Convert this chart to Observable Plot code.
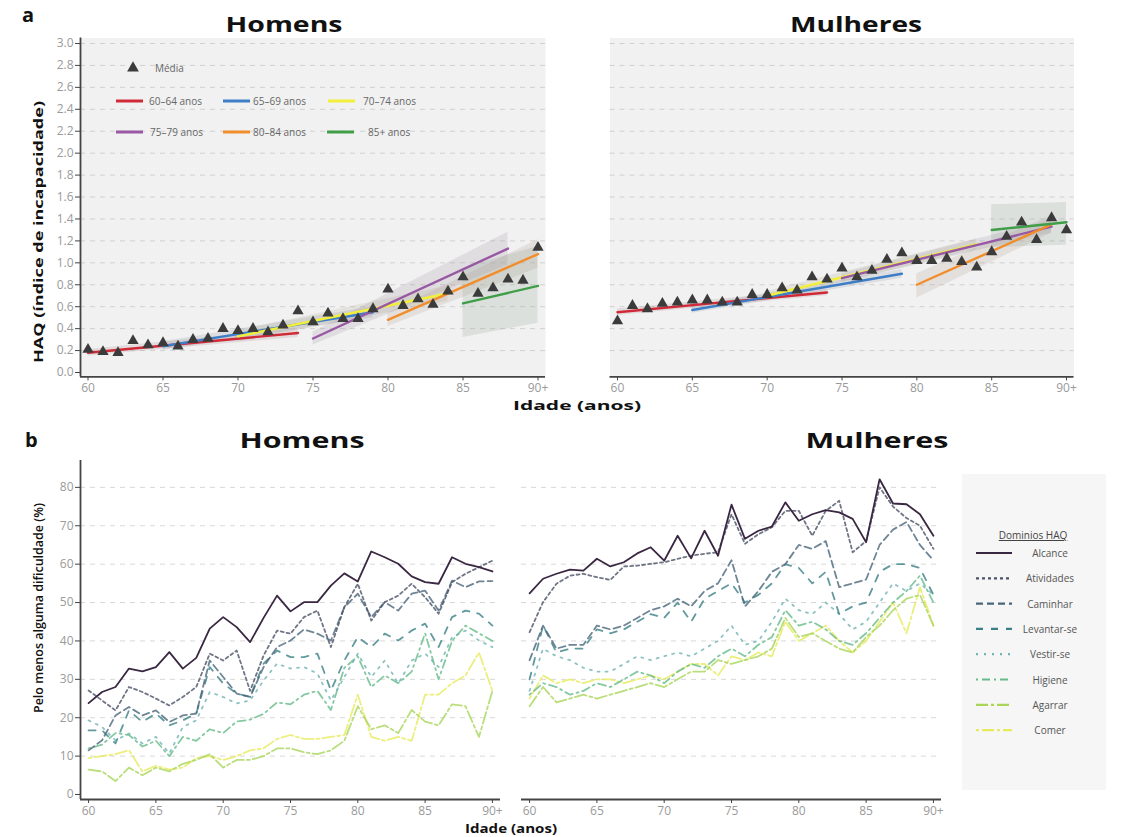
<!DOCTYPE html>
<html>
<head>
<meta charset="utf-8">
<script src="https://cdn.jsdelivr.net/npm/d3@7"></script>
<script src="https://cdn.jsdelivr.net/npm/@observablehq/plot@0.6"></script>
<style>
  body { margin: 0; background: #fff; }
  #fig { position: relative; width: 1122px; height: 837px; overflow: hidden; background: #fff; font-family: "Open Sans", sans-serif; }
  #fig > svg { position: absolute; }
</style>
</head>
<body>
<div id="fig"></div>
<script>
// ---------- shared axes ----------
const ages = [60,61,62,63,64,65,66,67,68,69,70,71,72,73,74,75,76,77,78,79,80,81,82,83,84,85,86,87,88,89,90];
const ageTicks = [60, 65, 70, 75, 80, 85, 90];
const haqTicks = [0, 0.2, 0.4, 0.6, 0.8, 1.0, 1.2, 1.4, 1.6, 1.8, 2.0, 2.2, 2.4, 2.6, 2.8, 3.0];
const pctTicks = [0, 10, 20, 30, 40, 50, 60, 70, 80];

// ---------- (a) HAQ mean by single year of age ----------
const haqMeanMen = [0.21,0.19,0.18,0.29,0.25,0.27,0.24,0.30,0.31,0.40,0.38,0.40,0.37,0.43,0.56,0.46,0.54,0.49,0.49,0.58,0.76,0.61,0.67,0.62,0.74,0.87,0.72,0.77,0.85,0.84,1.14];
const haqMeanWomen = [0.47,0.61,0.58,0.63,0.64,0.66,0.66,0.64,0.64,0.71,0.71,0.77,0.75,0.87,0.85,0.95,0.87,0.93,1.03,1.09,1.02,1.02,1.04,1.01,0.96,1.10,1.24,1.37,1.21,1.41,1.30];

// baseline cohorts and their fitted trajectories
const cohortGroups = ["60–64 anos", "65–69 anos", "70–74 anos", "75–79 anos", "80–84 anos", "85+ anos"];
const cohortColors = ["#d02a38", "#3d7ec6", "#f2ef3a", "#9858a4", "#f28d2c", "#3f9e47"];
// cohort, first age, last age, fit at first, fit at last, band low/high at first, band low/high at last
const fitsMen = [
  [0, 60, 74, 0.18, 0.36, 0.15, 0.21, 0.32, 0.40],
  [1, 65, 79, 0.24, 0.55, 0.20, 0.28, 0.50, 0.60],
  [2, 70, 84, 0.33, 0.72, 0.28, 0.38, 0.65, 0.79],
  [3, 75, 88, 0.31, 1.13, 0.25, 0.37, 0.98, 1.28],
  [4, 80, 90, 0.48, 1.08, 0.42, 0.54, 0.95, 1.21],
  [5, 85, 90, 0.63, 0.79, 0.32, 0.95, 0.45, 1.15]
];
const fitsWomen = [
  [0, 60, 74, 0.55, 0.73, 0.52, 0.58, 0.70, 0.76],
  [1, 65, 79, 0.57, 0.90, 0.54, 0.60, 0.86, 0.94],
  [2, 70, 84, 0.70, 1.17, 0.66, 0.74, 1.12, 1.22],
  [3, 75, 89, 0.86, 1.33, 0.82, 0.90, 1.27, 1.39],
  [4, 80, 89, 0.80, 1.35, 0.68, 0.90, 1.27, 1.43],
  [5, 85, 90, 1.30, 1.37, 1.14, 1.53, 1.16, 1.55]
];

// ---------- (b) % with at least some difficulty, by HAQ domain ----------
const domains = ["Alcance", "Atividades", "Caminhar", "Levantar-se", "Vestir-se", "Higiene", "Agarrar", "Comer"];
const domainColors = ["#3a2742", "#4b5366", "#4a667a", "#3a8085", "#72b3b3", "#66bb8a", "#a9d65a", "#e7ea5c"];
const domainDashes = ["none", "3,3", "7,4", "7,8", "2,6", "2,4,8,4", "12,3,3,3", "3,3,12,3"];

const menAlcance    = [23.8,26.7,28.0,32.8,32.1,33.2,37.1,32.8,35.6,43.2,46.2,43.6,39.7,46.0,51.8,47.7,50.1,50.1,54.4,57.6,55.5,63.3,61.8,60.1,56.8,55.3,54.9,61.8,60.1,59.2,58.1];
const menAtividades = [27.1,24.5,21.9,28.0,26.7,25.0,23.2,25.4,28.0,36.7,34.9,37.5,27.0,36.2,42.7,41.9,46.2,47.9,38.4,48.8,54.9,45.3,50.1,51.8,54.9,51.4,47.1,55.3,57.5,59.2,60.9];
const menCaminhar   = [11.5,14.1,20.6,22.8,20.6,21.9,18.9,20.6,21.1,34.9,30.6,26.3,25.4,33.2,38.4,40.1,43.0,41.9,40.1,48.8,52.3,46.2,50.1,47.9,52.3,53.1,47.9,55.7,54.0,55.5,55.6];
const menLevantar   = [16.7,16.7,13.3,21.9,18.9,21.1,18.0,19.3,21.1,33.2,28.9,26.3,25.4,34.1,37.5,35.8,35.8,36.7,27.1,34.9,41.0,38.4,41.9,40.1,42.7,44.5,38.4,46.2,47.9,47.1,44.0];
const menVestir     = [19.3,17.6,14.1,15.9,13.3,15.0,10.7,17.6,19.3,26.7,25.4,23.7,24.5,29.7,34.1,32.8,33.2,31.5,24.5,30.6,36.7,30.6,34.9,28.9,34.9,36.7,33.2,41.0,42.7,40.1,38.4];
const menHigiene    = [12.0,13.0,16.0,15.5,12.5,14.0,10.0,15.0,14.0,17.0,16.0,19.0,19.5,21.0,24.0,23.5,26.0,27.0,22.0,33.0,36.0,28.0,31.0,29.0,32.0,42.0,30.0,40.0,44.0,42.0,40.0];
const menAgarrar    = [6.5,6.0,3.5,7.0,5.0,7.0,6.0,8.0,9.0,10.5,7.0,9.0,9.0,10.0,12.0,12.0,11.0,10.5,11.5,14.0,23.0,17.0,18.0,16.0,22.0,19.0,18.0,23.5,23.0,15.0,27.0];
const menComer      = [9.5,10.0,10.5,11.5,6.0,7.5,6.5,7.0,9.5,10.0,9.0,10.0,11.5,12.0,14.5,15.5,14.5,14.5,15.0,15.5,26.0,15.0,14.0,15.0,14.0,26.0,26.0,29.0,31.0,37.0,27.0];

const womenAlcance    = [52.4,56.2,57.5,58.6,58.3,61.4,59.4,60.5,62.8,64.4,60.9,67.4,61.5,68.7,62.2,75.5,66.6,68.7,69.8,76.1,71.3,73.0,74.1,73.5,71.8,65.7,82.1,75.8,75.6,73.0,67.4];
const womenAtividades = [42.3,50.1,54.9,57.0,57.5,56.6,55.9,59.4,59.6,60.1,60.5,61.4,62.2,62.7,63.1,73.0,65.3,67.8,69.6,73.9,73.9,67.4,73.9,76.5,63.1,66.0,80.0,75.0,72.0,70.0,64.0];
const womenCaminhar   = [35,44,38,39,39,44,43,44,46,48,49,51,49,53,55,61,49,53,58,60,65,64,66,54,55,56,65,69,71,65,61];
const womenLevantar   = [30,44,37,38,38,43,42,43,45,47,46,50,45,51,53,55,50,52,55,60,59,55,58,47,49,50,58,60,60,59,52];
const womenVestir     = [27,38,36,35,33,32,32,34,36,35,36,37,36,38,40,44,39,40,45,51,48,47,50,47,43,45,50,55,53,55,52];
const womenHigiene    = [26,29,28,26,27,29,28,30,32,31,29,32,34,33,36,38,36,39,41,48,44,45,43,40,39,42,46,50,53,57,50];
const womenAgarrar    = [23,28,24,25,26,25,26,27,28,29,28,30,32,32,35,34,35,36,38,46,41,42,40,38,37,41,44,48,51,52,44];
const womenComer      = [25,31,29,30,29,30,30,29,30,31,30,32,34,34,31,36,35,37,36,45,40,42,44,40,37,40,45,50,42,54,44];

const menDomains = [menAlcance, menAtividades, menCaminhar, menLevantar, menVestir, menHigiene, menAgarrar, menComer];
const womenDomains = [womenAlcance, womenAtividades, womenCaminhar, womenLevantar, womenVestir, womenHigiene, womenAgarrar, womenComer];

// ---------- helpers ----------
const fig = document.getElementById("fig");
const fmtAge = d => (d === 90 ? "90+" : String(d));
const tickStyle = { fontFamily: "'Open Sans', sans-serif", fontSize: "12px", color: "#999", background: "transparent", overflow: "visible" };

function place(svg, left, top) {
  svg.style.left = left + "px";
  svg.style.top = top + "px";
  fig.appendChild(svg);
}

function haqPanel(means, fits, x0, x1, width, showY) {
  const rows = [];
  for (const [g, a0, a1, f0, f1, lo0, hi0, lo1, hi1] of fits) {
    rows.push({ g: cohortGroups[g], age: a0, fit: f0, lo: lo0, hi: hi0 });
    rows.push({ g: cohortGroups[g], age: a1, fit: f1, lo: lo1, hi: hi1 });
  }
  const pts = ages.map((a, i) => ({ age: a, haq: means[i] }));
  const marks = [
    Plot.frame({ fill: "#f1f1f1", stroke: "none" }),
    Plot.ruleY(haqTicks.slice(1), { stroke: "#d0d0d0", strokeDasharray: "5,5" }),
    Plot.areaY(rows, { x: "age", y1: "lo", y2: "hi", z: "g", fill: "#a8a8a8", fillOpacity: 0.2 }),
    Plot.areaY(rows, { x: "age", y1: "lo", y2: "hi", z: "g", fill: "g", fillOpacity: 0.035 }),
    Plot.line(rows, { x: "age", y: "fit", z: "g", stroke: "g", strokeWidth: 2.4 }),
    Plot.dot(pts, { x: "age", y: "haq", symbol: "triangle", fill: "#3b3b3b", stroke: "none", r: 4.2 }),
    Plot.axisX({ ticks: ageTicks, tickFormat: fmtAge, tickSize: 4, tickPadding: 3, stroke: "#444", fill: "#9a9a9a", label: null }),
    Plot.ruleY([-0.04], { stroke: "#444", strokeWidth: 1.8 })
  ];
  if (showY) {
    marks.push(
      Plot.axisY({ ticks: haqTicks, tickFormat: d3.format(".1f"), tickSize: 5, tickPadding: 2, stroke: "#444", fill: "#9a9a9a", label: null }),
      Plot.ruleX([59.5], { stroke: "#444", strokeWidth: 1.8 })
    );
  }
  const y = { domain: [-0.04, 3.05], range: [346.4, 7.5] };
  if (!showY) y.axis = null;
  return Plot.plot({
    width, height: 370,
    marginTop: 7.5, marginBottom: 23.6, marginLeft: x0, marginRight: width - x1,
    x: { domain: [59.5, 90.5], range: [x0, x1] },
    y,
    color: { domain: cohortGroups, range: cohortColors },
    style: tickStyle,
    marks
  });
}

function pctPanel(series, x0, x1, width, showY) {
  const marks = [Plot.ruleY(pctTicks.slice(1), { stroke: "#d8d8d8", strokeDasharray: "5,5" })];
  for (let k = domains.length - 1; k >= 0; k--) {
    const rows = ages.map((a, i) => ({ age: a, v: series[k][i] }));
    marks.push(Plot.line(rows, {
      x: "age", y: "v",
      stroke: domainColors[k],
      strokeWidth: 1.8,
      strokeOpacity: k === 0 ? 1 : 0.8,
      strokeDasharray: domainDashes[k]
    }));
  }
  marks.push(
    Plot.axisX({ ticks: ageTicks, tickFormat: fmtAge, tickSize: 4, tickPadding: 3, stroke: "#444", fill: "#9a9a9a", label: null }),
    Plot.ruleY([-1.3], { stroke: "#444", strokeWidth: 1.8 })
  );
  if (showY) {
    marks.push(
      Plot.axisY({ ticks: pctTicks, tickSize: 5, tickPadding: 2, stroke: "#444", fill: "#9a9a9a", label: null }),
      Plot.ruleX([59.4], { stroke: "#444", strokeWidth: 1.8 })
    );
  }
  const y = { domain: [-1.3, 87], range: [349, 10] };
  if (!showY) y.axis = null;
  return Plot.plot({
    width, height: 370,
    marginTop: 10, marginBottom: 21, marginLeft: x0, marginRight: width - x1,
    x: { domain: [59.4, 90.6], range: [x0, x1] },
    y,
    style: tickStyle,
    marks
  });
}

// ---------- panels ----------
place(haqPanel(haqMeanMen, fitsMen, 80, 545, 560, true), 0, 30);
place(haqPanel(haqMeanWomen, fitsWomen, 49.5, 513.5, 562, false), 560, 30);
place(pctPanel(menDomains, 80, 500, 510, true), 0, 450);
place(pctPanel(womenDomains, 11, 431, 440, false), 510, 450);

// ---------- titles, axis titles and legends ----------
const ov = d3.create("svg")
  .attr("width", 1122).attr("height", 837)
  .style("left", "0px").style("top", "0px")
  .style("pointer-events", "none")
  .style("font-family", "'Open Sans', sans-serif");

function label(txt, x, y, opts = {}) {
  const t = ov.append("text")
    .attr("x", x).attr("y", y)
    .attr("text-anchor", opts.anchor || "middle")
    .attr("font-size", opts.size || 12)
    .attr("font-weight", opts.weight || 400)
    .attr("fill", opts.fill || "#111")
    .text(txt);
  if (opts.len) t.attr("textLength", opts.len).attr("lengthAdjust", "spacingAndGlyphs");
  if (opts.rotate) t.attr("transform", `rotate(-90 ${x} ${y})`);
  return t;
}

// panel letters and facet titles
label("a", 22, 22, { anchor: "start", size: 20, weight: 700 });
label("b", 25, 447, { anchor: "start", size: 20, weight: 700 });
label("Homens", 284, 32, { size: 22, weight: 700, len: 117 });
label("Mulheres", 856, 32, { size: 22, weight: 700, len: 132 });
label("Homens", 302, 448, { size: 22, weight: 700, len: 125 });
label("Mulheres", 877, 448, { size: 22, weight: 700, len: 143 });

// axis titles
label("Idade (anos)", 577, 410, { size: 13, weight: 700, len: 128 });
label("Idade (anos)", 511, 833, { size: 12, weight: 700, len: 92 });
label("HAQ (índice de incapacidade)", 43, 232, { size: 13, weight: 700, len: 262, rotate: true });
label("Pelo menos alguma dificuldade (%)", 43, 608, { size: 12, weight: 600, len: 210, rotate: true });

// legend (a): mean marker and cohort lines
ov.append("path")
  .attr("d", d3.symbol(d3.symbolTriangle, 60)())
  .attr("transform", "translate(133,68)")
  .attr("fill", "#3b3b3b");
label("Média", 155, 72, { anchor: "start", size: 10, fill: "#666" });
const legA = [
  [116, 101, 149], [223, 101, 253], [328, 101, 363],
  [116, 132, 150], [223, 132, 253], [327, 132, 368]
];
cohortGroups.forEach((g, i) => {
  const [lx, ly, tx] = legA[i];
  ov.append("line").attr("x1", lx).attr("x2", lx + 27).attr("y1", ly).attr("y2", ly)
    .attr("stroke", cohortColors[i]).attr("stroke-width", 3);
  label(g, tx, ly + 4, { anchor: "start", size: 10, fill: "#666" });
});

// legend (b): HAQ domains
ov.append("rect").attr("x", 962).attr("y", 474).attr("width", 144).attr("height", 316)
  .attr("fill", "#f6f6f6");
label("Dominios HAQ", 1033, 539, { size: 10, fill: "#444" }).attr("text-decoration", "underline");
domains.forEach((d, i) => {
  const y = 553 + i * 25.3;
  ov.append("line").attr("x1", 976).attr("x2", 1012).attr("y1", y).attr("y2", y)
    .attr("stroke", domainColors[i]).attr("stroke-width", 2.2)
    .attr("stroke-dasharray", domainDashes[i] === "none" ? null : domainDashes[i]);
  label(d, 1050, y + 4, { size: 10, fill: "#555" });
});
fig.appendChild(ov.node());
</script>
</body>
</html>
